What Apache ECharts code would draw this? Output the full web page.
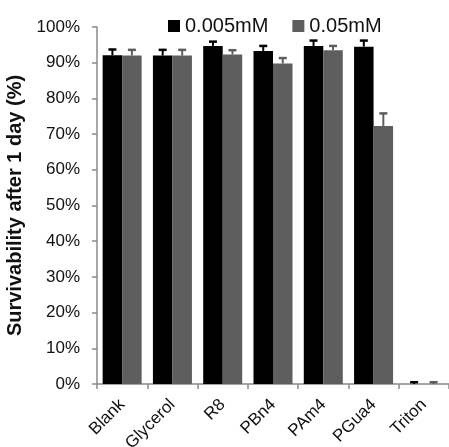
<!DOCTYPE html>
<html>
<head>
<meta charset="utf-8">
<script src="https://cdn.jsdelivr.net/npm/echarts@6/dist/echarts.min.js"></script>
<style>html,body{margin:0;padding:0;background:#fff}#c{width:449px;height:447px}</style>
</head>
<body>
<div id="c"></div>
<script>
var categories = ['Blank', 'Glycerol', 'R8', 'PBn4', 'PAm4', 'PGua4', 'Triton'];
var seriesNames = ['0.005mM', '0.05mM'];
var low = [92.1, 92.0, 94.7, 93.3, 94.7, 94.5, 0];
var lowErr = [1.6, 1.6, 1.2, 1.4, 1.5, 1.7, 0.5];
var high = [92.0, 92.0, 92.3, 89.8, 93.5, 72.3, 0];
var highErr = [1.6, 1.6, 1.2, 1.5, 1.2, 3.5, 0.5];
var yTicks = [0, 10, 20, 30, 40, 50, 60, 70, 80, 90, 100];

var FONT = 'Liberation Sans, Arial, sans-serif';
var BLACK = '#000000';
var GRAY = '#5e5e5e';
var BAR_W = 19.5;

function errSeries(vals, errs, color, sign) {
  var data = vals.map(function (v, i) { return [i, v, v + errs[i]]; });
  return {
    type: 'custom',
    z: 5,
    silent: true,
    data: data,
    renderItem: function (params, api) {
      var i = api.value(0);
      var p0 = api.coord([i, api.value(1)]);
      var p1 = api.coord([i, api.value(2)]);
      var x = p0[0] + sign * BAR_W / 2;
      var cap = 4;
      return {
        type: 'group',
        children: [
          { type: 'line', shape: { x1: x, y1: p0[1], x2: x, y2: p1[1] }, style: { stroke: color, lineWidth: 2 } },
          { type: 'line', shape: { x1: x - cap, y1: p1[1], x2: x + cap, y2: p1[1] }, style: { stroke: color, lineWidth: 2.5 } }
        ]
      };
    }
  };
}

var chart = echarts.init(document.getElementById('c'), null, { renderer: 'canvas' });
chart.setOption({
  animation: false,
  backgroundColor: '#ffffff',
  textStyle: { fontFamily: FONT },
  legend: {
    left: 163, top: 11,
    itemWidth: 12, itemHeight: 12, itemGap: 24, itemTextGap: 3,
    icon: 'rect',
    textStyle: { fontSize: 20, color: '#111', fontFamily: FONT },
    data: seriesNames
  },
  grid: { left: 97, right: 0, top: 27, bottom: 63, containLabel: false, outerBoundsMode: 'none' },
  xAxis: {
    type: 'category',
    data: categories,
    axisLine: { lineStyle: { color: '#8a8a8a', width: 1.5 } },
    axisTick: { show: true, length: 5, inside: false, lineStyle: { color: '#8a8a8a', width: 1.5 } },
    axisLabel: { rotate: 45, fontSize: 17, color: '#111', fontFamily: FONT, margin: 18, interval: 0 }
  },
  yAxis: {
    type: 'value',
    min: 0, max: 100, interval: 10,
    name: 'Survivability after 1 day (%)',
    nameLocation: 'middle',
    nameGap: 64,
    nameTextStyle: { fontSize: 20, fontWeight: 'bold', color: '#111', fontFamily: FONT },
    splitLine: { show: false },
    axisLine: { show: true, lineStyle: { color: '#8a8a8a', width: 1.5 } },
    axisTick: { show: true, length: 5, lineStyle: { color: '#8a8a8a', width: 1.5 } },
    axisLabel: { fontSize: 17, color: '#111', fontFamily: FONT, margin: 17,
      formatter: function (v) { return v + '%'; } }
  },
  series: [
    { name: seriesNames[0], type: 'bar', data: low, barWidth: BAR_W, barGap: '0%',
      itemStyle: { color: BLACK } },
    { name: seriesNames[1], type: 'bar', data: high, barWidth: BAR_W, barGap: '0%',
      itemStyle: { color: GRAY } },
    errSeries(low, lowErr, BLACK, -1),
    errSeries(high, highErr, GRAY, 1)
  ]
});
</script>
</body>
</html>
